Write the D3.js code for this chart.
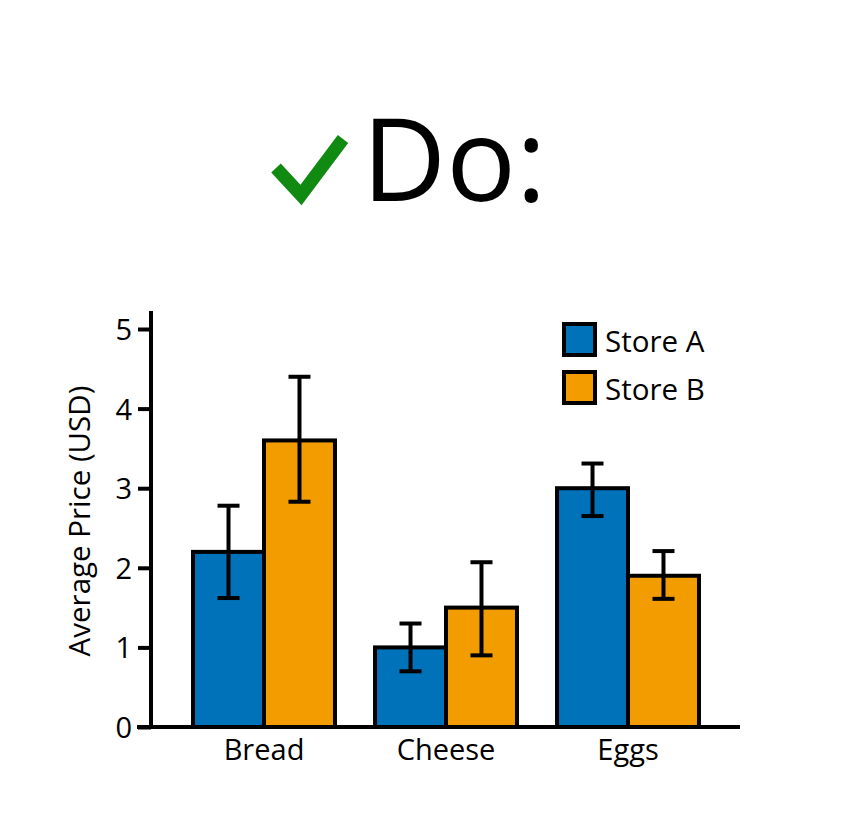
<!DOCTYPE html>
<html>
<head>
<meta charset="utf-8">
<script src="https://cdn.jsdelivr.net/npm/d3@7"></script>
<style>
  body { margin: 0; background: #fff; }
  svg text { font-family: "Open Sans", "Noto Sans", sans-serif; fill: #000; }
</style>
</head>
<body>
<svg id="chart" width="867" height="838"></svg>
<script>
const categorias = ["Bread", "Cheese", "Eggs"];
const tiendas = ["Store A", "Store B"];
const precioA = [2.2, 1.0, 3.0];
const precioB = [3.6, 1.5, 1.9];
const errBajoA = [1.62, 0.7, 2.65];
const errAltoA = [2.78, 1.3, 3.31];
const errBajoB = [2.83, 0.9, 1.61];
const errAltoB = [4.4, 2.07, 2.21];
const ticksY = [0, 1, 2, 3, 4, 5];

const colores = { "Store A": "#0072B9", "Store B": "#F29C00" };

const filas = [];
categorias.forEach((c, i) => {
  filas.push({ cat: c, tienda: "Store A", valor: precioA[i], lo: errBajoA[i], hi: errAltoA[i] });
  filas.push({ cat: c, tienda: "Store B", valor: precioB[i], lo: errBajoB[i], hi: errAltoB[i] });
});

const svg = d3.select("#chart");

// título
const check = [[276, 168], [301, 195], [343, 139]];
svg.append("path")
  .attr("d", d3.line()(check))
  .attr("fill", "none")
  .attr("stroke", "#118A11")
  .attr("stroke-width", 13);

svg.append("text")
  .attr("x", 362)
  .attr("y", 201)
  .style("font-size", "116px")
  .text("Do:");

// escalas
const x = d3.scaleBand()
  .domain(categorias)
  .range([173, 719])
  .paddingInner(0.22)
  .paddingOuter(0.11);

const xInterna = d3.scaleBand()
  .domain(tiendas)
  .range([0, x.bandwidth()]);

const y = d3.scaleLinear()
  .domain([0, 5])
  .range([727, 329]);

const g = svg.append("g");

// barras
g.selectAll("rect.barra")
  .data(filas)
  .join("rect")
  .attr("class", "barra")
  .attr("x", d => x(d.cat) + xInterna(d.tienda))
  .attr("y", d => y(d.valor))
  .attr("width", xInterna.bandwidth())
  .attr("height", d => y(0) - y(d.valor))
  .attr("fill", d => colores[d.tienda])
  .attr("stroke", "#000")
  .attr("stroke-width", 4);

// barras de error
const errores = g.selectAll("g.error")
  .data(filas)
  .join("g")
  .attr("class", "error")
  .attr("transform", d => `translate(${x(d.cat) + xInterna(d.tienda) + xInterna.bandwidth() / 2},0)`)
  .attr("stroke", "#000")
  .attr("stroke-width", 4);

errores.append("line")
  .attr("y1", d => y(d.lo))
  .attr("y2", d => y(d.hi));
errores.append("line")
  .attr("x1", -11).attr("x2", 11)
  .attr("y1", d => y(d.hi)).attr("y2", d => y(d.hi));
errores.append("line")
  .attr("x1", -11).attr("x2", 11)
  .attr("y1", d => y(d.lo)).attr("y2", d => y(d.lo));

// eje y
const ejeY = svg.append("g")
  .attr("transform", "translate(151,0)")
  .call(d3.axisLeft(y).tickValues(ticksY).tickFormat(d3.format("d")).tickSize(13).tickPadding(6));
ejeY.select(".domain").remove();
ejeY.selectAll(".tick line").attr("stroke-width", 4);
ejeY.selectAll(".tick text").style("font-size", "29px").attr("dy", "0.36em");

svg.append("line")
  .attr("x1", 151).attr("x2", 151)
  .attr("y1", 311).attr("y2", 729)
  .attr("stroke", "#000")
  .attr("stroke-width", 4);

// eje x
const ejeX = svg.append("g")
  .attr("transform", `translate(0,${y(0)})`)
  .call(d3.axisBottom(x).tickSize(0).tickPadding(12));
ejeX.select(".domain").remove();
ejeX.selectAll(".tick text").style("font-size", "29px").attr("dy", "0.71em");

svg.append("line")
  .attr("x1", 137).attr("x2", 740)
  .attr("y1", y(0)).attr("y2", y(0))
  .attr("stroke", "#000")
  .attr("stroke-width", 4);

// etiqueta y
svg.append("text")
  .attr("transform", "translate(90,521) rotate(-90)")
  .attr("text-anchor", "middle")
  .style("font-size", "29.5px")
  .text("Average Price (USD)");

// leyenda
const leyenda = svg.append("g")
  .selectAll("g")
  .data(tiendas)
  .join("g")
  .attr("transform", (d, i) => `translate(564,${324 + i * 48})`);

leyenda.append("rect")
  .attr("width", 31)
  .attr("height", 31)
  .attr("fill", d => colores[d])
  .attr("stroke", "#000")
  .attr("stroke-width", 4);

leyenda.append("text")
  .attr("x", 41)
  .attr("y", 28)
  .style("font-size", "29.5px")
  .text(d => d);
</script>
</body>
</html>
